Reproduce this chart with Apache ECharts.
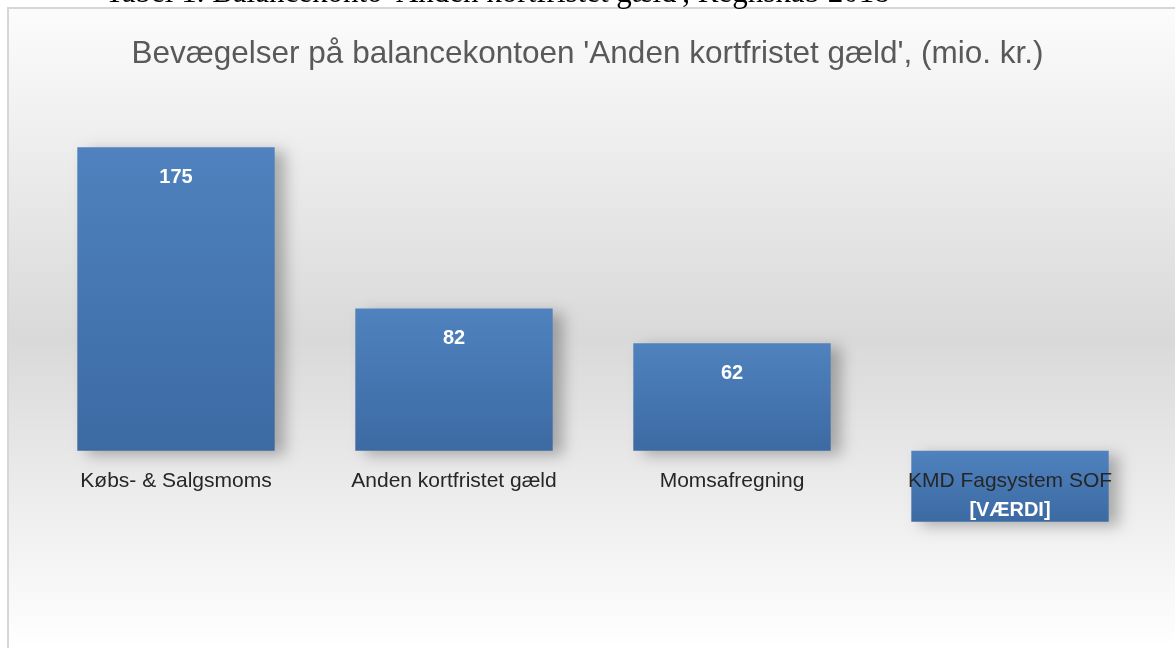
<!DOCTYPE html>
<html>
<head>
<meta charset="utf-8">
<script src="https://cdn.jsdelivr.net/npm/echarts@6/dist/echarts.min.js"></script>
<style>
  html, body { margin: 0; padding: 0; background: #fff; }
  #chart { width: 1175px; height: 648px; }
</style>
</head>
<body>
<div id="chart"></div>
<script>
var categories = ['Købs- & Salgsmoms', 'Anden kortfristet gæld', 'Momsafregning', 'KMD Fagsystem SOF'];
var values = [175, 82, 62, -41];
var valueLabels = ['175', '82', '62', '[VÆRDI]'];

var chart = echarts.init(document.getElementById('chart'));

var barColor = new echarts.graphic.LinearGradient(0, 0, 0, 1, [
  { offset: 0, color: '#4f82be' },
  { offset: 1, color: '#3c6aa3' }
]);

var option = {
  animation: false,
  title: {
    text: "Bevægelser på balancekontoen 'Anden kortfristet gæld', (mio. kr.)",
    left: 'center',
    top: 33,
    textStyle: { fontFamily: 'Liberation Sans', fontSize: 31.5, fontWeight: 'normal', color: '#595959' }
  },
  graphic: [
    {
      type: 'rect', z: -10, silent: true,
      shape: { x: 8, y: 8, width: 1180, height: 660 },
      style: {
        fill: new echarts.graphic.LinearGradient(0, 0, 0, 1, [
          { offset: 0, color: '#fcfcfc' },
          { offset: 0.5, color: '#d9d9d9' },
          { offset: 0.97, color: '#ffffff' },
          { offset: 1, color: '#ffffff' }
        ]),
        stroke: '#d6d6d6', lineWidth: 2
      }
    },
    {
      type: 'text', z: -5, silent: true,
      left: 105, top: -22,
      style: {
        text: "Tabel 1. Balancekonto 'Anden kortfristet gæld', Regnskab 2018",
        font: '31px "Liberation Serif"', fill: '#000'
      }
    }
  ],
  grid: { left: 37, right: 26, top: 104, bottom: 24, outerBoundsMode: 'none', containLabel: false },
  xAxis: {
    type: 'category',
    data: categories,
    z: 5,
    offset: -173.3,
    axisLine: { show: false, onZero: false },
    axisTick: { show: false },
    axisLabel: { margin: 20, fontFamily: 'Liberation Sans', fontSize: 21, color: '#262626' }
  },
  yAxis: {
    type: 'value',
    min: -100, max: 200, interval: 50,
    axisLine: { show: false },
    axisTick: { show: false },
    axisLabel: { show: false },
    splitLine: { show: false }
  },
  series: [{
    type: 'bar',
    data: values.map(function (v, i) {
      return {
        value: v,
        label: v >= 0
          ? { position: 'insideTop', distance: 20 }
          : { position: 'insideBottom', distance: 1 }
      };
    }),
    barCategoryGap: '29%',
    itemStyle: {
      color: barColor,
      shadowColor: 'rgba(0,0,0,0.28)',
      shadowBlur: 14,
      shadowOffsetX: 10,
      shadowOffsetY: 4
    },
    label: {
      show: true,
      formatter: function (p) { return valueLabels[p.dataIndex]; },
      color: '#fff',
      fontFamily: 'Liberation Sans',
      fontWeight: 'bold',
      fontSize: 20
    }
  }]
};
chart.setOption(option);
</script>
</body>
</html>
